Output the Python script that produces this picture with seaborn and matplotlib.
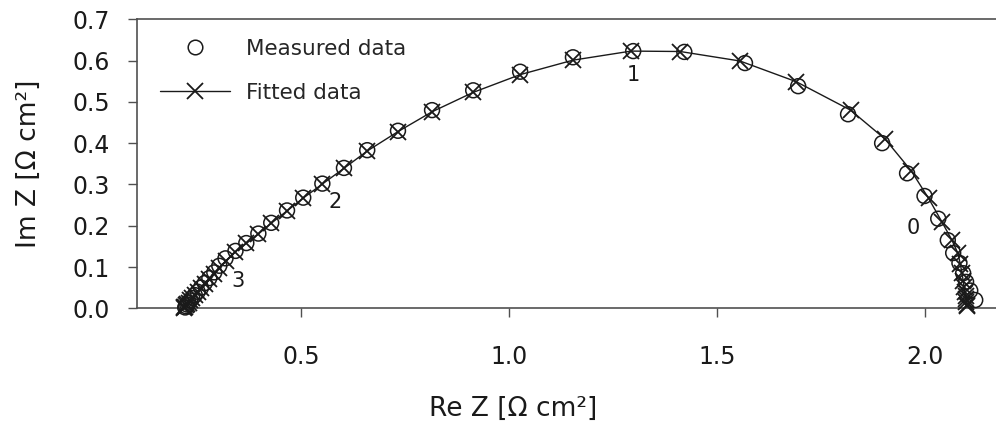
import matplotlib
matplotlib.use("Agg")
import matplotlib.pyplot as plt
import pandas as pd
import seaborn as sns
from matplotlib.lines import Line2D
from matplotlib.ticker import FormatStrFormatter

# Impedance spectrum, ordered from high to low frequency
re_measured = [0.221, 0.223, 0.226, 0.229, 0.233, 0.238, 0.244, 0.251, 0.259, 0.268,
               0.279, 0.291, 0.303, 0.318, 0.342, 0.368, 0.397, 0.428, 0.466, 0.505,
               0.551, 0.603, 0.659, 0.733, 0.815, 0.914, 1.027, 1.154, 1.299, 1.422,
               1.568, 1.696, 1.816, 1.898, 1.958, 2.000, 2.033, 2.056, 2.069, 2.084,
               2.093, 2.100, 2.110, 2.122]
im_measured = [0.002, 0.005, 0.009, 0.014, 0.019, 0.025, 0.032, 0.040, 0.050, 0.061,
               0.073, 0.087, 0.103, 0.121, 0.139, 0.158, 0.181, 0.207, 0.237, 0.268,
               0.302, 0.340, 0.383, 0.430, 0.480, 0.528, 0.573, 0.608, 0.623, 0.621,
               0.594, 0.538, 0.470, 0.400, 0.327, 0.272, 0.217, 0.165, 0.134, 0.110,
               0.085, 0.064, 0.043, 0.020]

re_fitted = [0.218, 0.219, 0.221, 0.223, 0.226, 0.229, 0.233, 0.238, 0.244, 0.251,
             0.259, 0.268, 0.278, 0.290, 0.303, 0.319, 0.342, 0.368, 0.397, 0.428,
             0.466, 0.505, 0.551, 0.603, 0.659, 0.733, 0.815, 0.914, 1.027, 1.154,
             1.294, 1.412, 1.556, 1.691, 1.822, 1.905, 1.968, 2.010, 2.042, 2.066,
             2.080, 2.086, 2.090, 2.093, 2.095, 2.097, 2.099, 2.100, 2.101, 2.102,
             2.102]
im_fitted = [0.000, 0.002, 0.004, 0.007, 0.010, 0.014, 0.019, 0.025, 0.032, 0.040,
             0.049, 0.059, 0.070, 0.083, 0.098, 0.115, 0.137, 0.157, 0.180, 0.206,
             0.236, 0.267, 0.301, 0.339, 0.381, 0.428, 0.476, 0.523, 0.566, 0.601,
             0.623, 0.622, 0.599, 0.549, 0.480, 0.410, 0.333, 0.266, 0.209, 0.165,
             0.134, 0.108, 0.086, 0.067, 0.052, 0.040, 0.030, 0.022, 0.015, 0.009,
             0.005]

# Frequency decade markers (log10 f)
decade_labels = ["3", "2", "1", "0"]
decade_re = [0.348, 0.582, 1.299, 1.973]
decade_im = [0.066, 0.257, 0.565, 0.194]

x_ticks = [0.5, 1.0, 1.5, 2.0]
y_ticks = [0.0, 0.1, 0.2, 0.3, 0.4, 0.5, 0.6, 0.7]

sns.set_theme(style="ticks")
plt.rcParams["font.family"] = ["DejaVu Sans"]

ink = "#1a1a1a"
axis_grey = "#505050"

W, H = 996, 430
fig = plt.figure(figsize=(W / 100, H / 100), dpi=100)
ax = fig.add_axes([137 / W, (H - 308.3) / H, (W + 2 - 137) / W, 289.0 / H])

fitted = pd.DataFrame({"re": re_fitted, "im": im_fitted})
measured = pd.DataFrame({"re": re_measured, "im": im_measured})

sns.lineplot(data=fitted, x="re", y="im", sort=False, estimator=None, ax=ax,
             color=ink, linewidth=1.0, marker="x", markersize=11.5,
             markeredgewidth=1.3, markeredgecolor=ink, clip_on=False, zorder=3)
sns.scatterplot(data=measured, x="re", y="im", ax=ax, marker="o", s=115,
                facecolors="none", edgecolor=ink, linewidth=1.1,
                clip_on=False, zorder=4)
ax.collections[-1].set_facecolor("none")

for lab, xv, yv in zip(decade_labels, decade_re, decade_im):
    ax.text(xv, yv, lab, fontsize=15, color=ink, ha="center", va="center")

ax.set_xlim(0.105, 2.172 + 2 / 415.5)
ax.set_ylim(0.0, 0.7)
ax.set_xticks(x_ticks)
ax.set_yticks(y_ticks)
ax.xaxis.set_major_formatter(FormatStrFormatter("%.1f"))
ax.yaxis.set_major_formatter(FormatStrFormatter("%.1f"))
ax.tick_params(axis="both", direction="out", length=6.5, width=1.0,
               color=axis_grey, labelcolor=ink, labelsize=17)
ax.tick_params(axis="x", pad=20)
ax.tick_params(axis="y", pad=13)

for side in ("left", "bottom", "top"):
    ax.spines[side].set_color(axis_grey)
    ax.spines[side].set_linewidth(1.2)
ax.spines["right"].set_visible(False)

ax.set_xlabel("Re Z [Ω cm²]", fontsize=19, color=ink)
ax.set_ylabel("Im Z [Ω cm²]", fontsize=19, color=ink)
ax.xaxis.set_label_coords((512 - 137) / (W - 137), (308.3 - 396) / 289.0)
ax.yaxis.set_label_coords((42 - 137) / (W - 137), 0.5)

handles = [
    Line2D([], [], marker="o", linestyle="none", markerfacecolor="none",
           markeredgecolor=ink, markersize=10.5, markeredgewidth=1.1),
    Line2D([], [], marker="x", color=ink, linewidth=1.0, markersize=12,
           markeredgewidth=1.3),
]
ax.legend(handles, ["Measured data", "Fitted data"], loc="upper left",
          bbox_to_anchor=(160 / W, (H - 39) / H), bbox_transform=fig.transFigure,
          frameon=False, fontsize=15.5, handlelength=3.25, handletextpad=0.75,
          labelspacing=1.1, borderpad=0, borderaxespad=0)

fig.savefig("out.png", dpi=100)
